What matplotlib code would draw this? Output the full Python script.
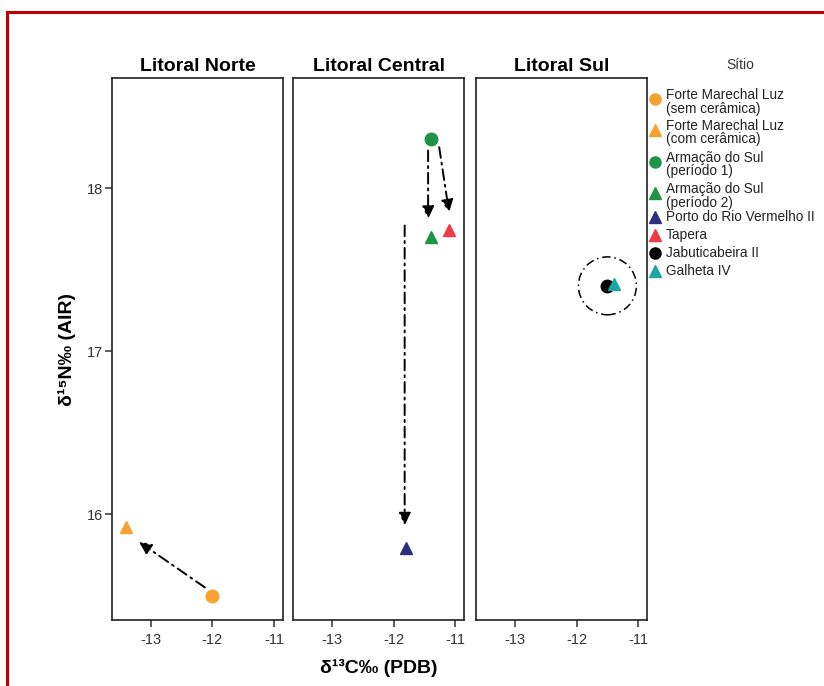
import matplotlib
matplotlib.use("Agg")
import matplotlib.pyplot as plt
from matplotlib.lines import Line2D
from matplotlib.patches import Ellipse

plt.rcParams['font.family'] = ['Liberation Sans', 'DejaVu Sans']

# ---- data ----
panels = ["Litoral Norte", "Litoral Central", "Litoral Sul"]
sites = ["Forte Marechal Luz\n(sem cerâmica)", "Forte Marechal Luz\n(com cerâmica)",
         "Armação do Sul\n(período 1)", "Armação do Sul\n(período 2)",
         "Porto do Rio Vermelho II", "Tapera", "Jabuticabeira II", "Galheta IV"]
site_panel = [0, 0, 1, 1, 1, 1, 2, 2]
d13C = [-12.0, -13.4, -11.4, -11.4, -11.8, -11.1, -11.5, -11.4]
d15N = [15.5, 15.92, 18.3, 17.7, 15.79, 17.74, 17.4, 17.41]
markers = ["o", "^", "o", "^", "^", "^", "o", "^"]
colors = ["#f7a12e", "#f7a12e", "#1f9444", "#1f9444", "#2c2f80", "#ee3b46", "#000000", "#1ba6a3"]

# arrows: panel, (x_start, y_start), (x_end, y_end)
arrow_panel = [0, 1, 1, 1]
arrow_start = [(-12.12, 15.55), (-11.82, 17.77), (-11.44, 18.23), (-11.26, 18.25)]
arrow_end = [(-13.19, 15.83), (-11.82, 15.93), (-11.44, 17.81), (-11.10, 17.85)]

# dashed circle around Sul points
circle_panel = 2
circle_center = (-11.5, 17.4)
circle_w, circle_h = 0.94, 0.355

xticks = [-13, -12, -11]
yticks = [16, 17, 18]
xlim = (-13.63, -10.85)
ylim = (15.35, 18.675)

DASHDOT = (0, (5.5, 2.5, 1, 2.5))

fig = plt.figure(figsize=(8.24, 6.86), dpi=100)

lefts = [111.7, 293, 476]
W, H = 824, 686
axes = []
for i, l in enumerate(lefts):
    ax = fig.add_axes([l / W, 1 - 620 / H, 171.5 / W, (620 - 78) / H])
    axes.append(ax)
    ax.set_xlim(*xlim)
    ax.set_ylim(*ylim)
    ax.set_xticks(xticks)
    ax.set_xticklabels([str(t) for t in xticks])
    ax.tick_params(axis='x', direction='out', length=5, width=1.1, labelsize=10.5,
                   colors='#333333', labelcolor='#333333', pad=4.5)
    if i == 0:
        ax.set_yticks(yticks)
        ax.set_yticklabels([str(t) for t in yticks])
        ax.tick_params(axis='y', direction='out', length=5, width=1.1, labelsize=10.5,
                       colors='#333333', labelcolor='#333333', pad=1)
    else:
        ax.set_yticks([])
    for s in ax.spines.values():
        s.set_linewidth(1.2)
        s.set_color('#222222')
    ax.set_title(panels[i], fontsize=14, fontweight='bold', pad=5)

for k in range(len(sites)):
    ax = axes[site_panel[k]]
    ax.plot(d13C[k], d15N[k], marker=markers[k], color=colors[k], markersize=9,
            linestyle='none', zorder=3)

for p, s, e in zip(arrow_panel, arrow_start, arrow_end):
    axes[p].annotate("", xy=e, xytext=s,
                     arrowprops=dict(arrowstyle='-|>,head_length=0.75,head_width=0.35',
                                     color='black', lw=1.4, linestyle=DASHDOT,
                                     shrinkA=0, shrinkB=0), zorder=2)

axes[circle_panel].add_patch(Ellipse(circle_center, circle_w, circle_h, fill=False,
                                     edgecolor='black', lw=1.1, linestyle=DASHDOT, zorder=2))

axes[0].set_ylabel("δ\u00b9\u2075N‰ (AIR)", fontsize=14, fontweight='bold', labelpad=8)
axes[1].set_xlabel("δ\u00b9\u00b3C‰ (PDB)", fontsize=14, fontweight='bold', labelpad=8.5)

# ---- legend drawn in a pixel-coordinate overlay axes ----
lax = fig.add_axes([645 / W, 0, (W - 645) / W, 1])
lax.set_xlim(645, W)
lax.set_ylim(H, 0)
lax.axis('off')
leg_marker_y = [99, 130, 162, 193, 217, 235, 253, 271]
lax.text(740, 65, "Sítio", fontsize=10, color='#333333', ha='center', va='center')
for k in range(len(sites)):
    lax.plot(655, leg_marker_y[k], marker=markers[k], color=colors[k], markersize=8,
             linestyle='none', clip_on=False)
    lines = sites[k].split("\n")
    if len(lines) == 2:
        offs = [-4, 9.5]
    else:
        offs = [0]
    for ln, o in zip(lines, offs):
        lax.text(666, leg_marker_y[k] + o, ln, fontsize=9.8, color='#222222',
                 ha='left', va='center')

# red frame (top and left edges visible)
fig.add_artist(Line2D([7 / W, 7 / W], [0, 1 - 12 / H], transform=fig.transFigure,
                      color='#c00000', lw=2.2))
fig.add_artist(Line2D([7 / W, 1], [1 - 12 / H, 1 - 12 / H], transform=fig.transFigure,
                      color='#c00000', lw=2.2))

fig.savefig("out.png", dpi=100)
